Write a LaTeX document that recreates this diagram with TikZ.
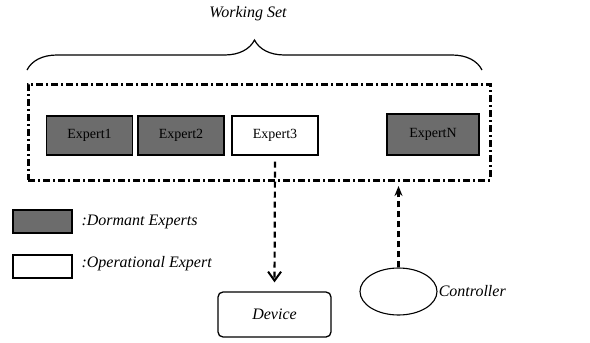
\documentclass[tikz,border=0pt]{standalone}
\usepackage{fontspec}
\setmainfont{Liberation Serif}
\usetikzlibrary{arrows.meta,decorations.pathreplacing,shapes.geometric}

\definecolor{dormant}{RGB}{108,108,108}

\begin{document}
\begin{tikzpicture}[x=1pt, y=-1pt,
  expert/.style={draw, line width=1.4pt, minimum width=86pt, minimum height=39pt,
    inner sep=0pt, font=\fontsize{14}{16}\selectfont},
  sleeping/.style={expert, fill=dormant},
  active/.style={expert, fill=white},
  key/.style={draw, line width=1.4pt, minimum width=59pt, minimum height=23pt, inner sep=0pt},
  lbl/.style={font=\fontsize{16}{19}\selectfont\itshape},
  flow/.style={line width=2.2pt, dash pattern=on 6pt off 4pt}]

\useasboundingbox (0,0) rectangle (590,343);

% Working set frame
\node[draw, line width=3pt, dash pattern=on 7pt off 3pt on 2pt off 3pt,
  minimum width=462pt, minimum height=96pt, inner sep=0pt] (set) at (259,132) {};

% Experts
\node[sleeping] (e1) at (89.5,135.5) {Expert1};
\node[sleeping] (e2) at (181,135.5) {Expert2};
\node[active]   (e3) at (275,135.5) {Expert3};
\node[sleeping, minimum width=92pt, minimum height=41pt] (eN) at (433,134.5) {ExpertN};

% Brace and its label
\coordinate (bl) at (27,70);
\coordinate (br) at (482,70);
\draw[decorate, decoration={brace, amplitude=30pt}, line width=1.2pt] (bl) -- (br);
\node[lbl] (ws) at (248,14) {Working Set};

% Legend
\node[key, fill=dormant] (kd) at (42.5,221.5) {};
\node[key, fill=white]   (ko) at (42.5,266.5) {};
\node[lbl, anchor=west] (kdl) at (78,222) {:Dormant Experts};
\node[lbl, anchor=west] (kol) at (78,264) {:Operational Expert};

% Device and controller
\node[draw, rounded corners=5pt, line width=1.3pt, minimum width=113pt,
  minimum height=45pt, lbl] (dev) at (274.5,314.5) {Device};
\node[draw, ellipse, line width=1.1pt, minimum width=77pt, minimum height=47pt,
  inner sep=0pt] (ctl) at (398.5,291.5) {};
\node[lbl, anchor=west, inner sep=1pt] (ctll) at (ctl.east) {Controller};

% Arrows
\coordinate (hit) at (398.5,186);
\draw[flow, shorten <=6pt, shorten >=9pt,
  -{Straight Barb[length=9pt, width=13pt, line width=2pt]}] (e3.south) -- (dev.north);
\draw[flow, -{Stealth[length=10pt, width=8pt]}] (ctl.north) -- (hit);

\end{tikzpicture}
\end{document}
